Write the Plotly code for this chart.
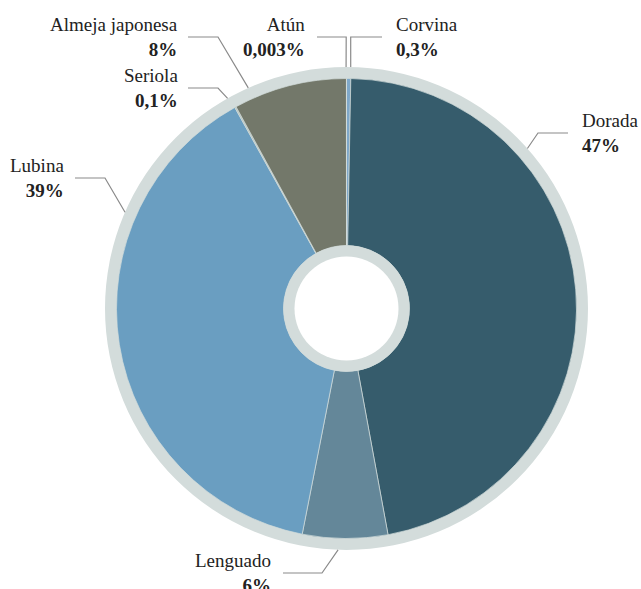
import math
import plotly.graph_objects as go

# Species share of production, clockwise from 12 o'clock
species = ["Corvina", "Dorada", "Lenguado", "Lubina", "Seriola", "Almeja japonesa", "Atún"]
shares = [0.3, 47, 6, 39, 0.1, 8, 0.003]
colors = ["#7fa8c9", "#365c6c", "#648799", "#6a9ec1", "#b4c0bb", "#73786a", "#c0c8c4"]

W, H = 641, 589
CX, CY = 346.5, 308.5          # pie centre in pixels
R_RING, R_PIE, R_HOLE, R_CORE = 241.5, 230, 63, 52
RING = "#d3dcdb"
FONT = "'Liberation Serif', 'Times New Roman', 'DejaVu Serif', serif"


def px(x, y):
    """Pixel position -> paper coordinates."""
    return x / W, 1 - y / H


def domain(r):
    x0, y1 = px(CX - r, CY - r)
    x1, y0 = px(CX + r, CY + r)
    return dict(x=[x0, x1], y=[y0, y1])


def fmt(v):
    s = ("%g" % v).replace(".", ",")
    return s + "%"


fig = go.Figure()

# outer light ring
fig.add_trace(go.Pie(values=[1], marker=dict(colors=[RING]), domain=domain(R_RING),
                     textinfo="none", hoverinfo="skip", sort=False, showlegend=False))
# main slices
fig.add_trace(go.Pie(labels=species, values=shares, marker=dict(colors=colors, line=dict(color=RING, width=0.7)),
                     domain=domain(R_PIE), hole=R_HOLE / R_PIE, direction="clockwise", sort=False,
                     rotation=0, textinfo="none", hoverinfo="label+percent", showlegend=False))
# inner ring + white core
fig.add_trace(go.Pie(values=[1], marker=dict(colors=[RING]), domain=domain(R_HOLE),
                     textinfo="none", hoverinfo="skip", sort=False, showlegend=False))
fig.add_trace(go.Pie(values=[1], marker=dict(colors=["#ffffff"]), domain=domain(R_CORE),
                     textinfo="none", hoverinfo="skip", sort=False, showlegend=False))

# Label layout: leader start angle on the ring (deg, clockwise from top),
# elbow point, leader end, text edge x and side
label_layout = {
    "Corvina":         dict(angle=1.0,   elbow=(350.7, 37), end=(382, 37), tx=394, side="left"),
    "Dorada":          dict(angle=48.5,  elbow=(538, 133),  end=(568, 133), tx=580, side="left"),
    "Lenguado":        dict(angle=182.0, elbow=(322, 573),  end=(283, 573), tx=273, side="right"),
    "Lubina":          dict(angle=293.5, elbow=(105, 178),  end=(75, 178),  tx=66, side="right"),
    "Seriola":         dict(angle=330.5, elbow=(218, 88),   end=(188, 88),  tx=180, side="right"),
    "Almeja japonesa": dict(angle=336.0, elbow=(218, 37),   end=(188, 37),  tx=180, side="right"),
    "Atún":            dict(angle=359.9, elbow=(346.2, 37), end=(317, 37),  tx=307, side="right"),
}

shapes = []
annotations = []
for name, val in zip(species, shares):
    L = label_layout[name]
    a = math.radians(L["angle"])
    sx = CX + R_RING * math.sin(a)
    sy = CY - R_RING * math.cos(a)
    p0, p1, p2 = px(sx, sy), px(*L["elbow"]), px(*L["end"])
    shapes.append(dict(type="path", xref="paper", yref="paper",
                       path=f"M {p0[0]},{p0[1]} L {p1[0]},{p1[1]} L {p2[0]},{p2[1]}",
                       line=dict(color="#8a8a8a", width=1.2)))
    tx, ty = px(L["tx"], L["end"][1])
    annotations.append(dict(xref="paper", yref="paper", x=tx, y=ty,
                            xanchor="right" if L["side"] == "right" else "left",
                            yanchor="middle", align=L["side"], showarrow=False,
                            text=f"{name}<br><b>{fmt(val)}</b>",
                            font=dict(family=FONT, size=19, color="#222222")))

fig.update_layout(width=W, height=H, margin=dict(l=0, r=0, t=0, b=0),
                  paper_bgcolor="white", plot_bgcolor="white",
                  font=dict(family=FONT),
                  shapes=shapes, annotations=annotations, showlegend=False)

fig.write_html("out.html")
